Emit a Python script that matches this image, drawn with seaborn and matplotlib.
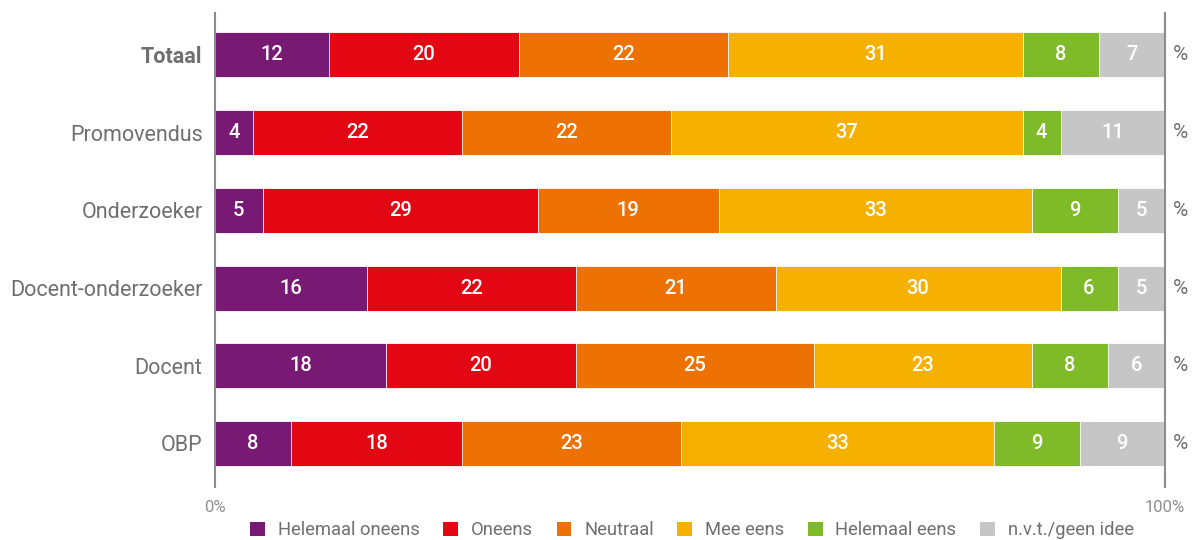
import matplotlib
matplotlib.use("Agg")
import matplotlib.pyplot as plt
from matplotlib.patches import Patch
import numpy as np
import pandas as pd
import seaborn as sns

categories = ["Totaal", "Promovendus", "Onderzoeker", "Docent-onderzoeker", "Docent", "OBP"]
series_names = ["Helemaal oneens", "Oneens", "Neutraal", "Mee eens", "Helemaal eens", "n.v.t./geen idee"]
helemaal_oneens = [12, 4, 5, 16, 18, 8]
oneens = [20, 22, 29, 22, 20, 18]
neutraal = [22, 22, 19, 21, 25, 23]
mee_eens = [31, 37, 33, 30, 23, 33]
helemaal_eens = [8, 4, 9, 6, 8, 9]
nvt = [7, 11, 5, 5, 6, 9]
tick_labels = ["0%", "100%"]

colors = ["#781a74", "#e30613", "#ee7203", "#f6b100", "#7fba28", "#c6c6c6"]
text_gray = "#6f6f6f"

sns.set_theme(style="white")
plt.rcParams["font.family"] = ["Roboto", "DejaVu Sans"]

values = np.array([helemaal_oneens, oneens, neutraal, mee_eens, helemaal_eens, nvt], dtype=float)
cum = np.cumsum(values, axis=0)

fig = plt.figure(figsize=(11.92, 5.40), dpi=100)
ax = fig.add_axes([215 / 1192, 53 / 540, 950 / 1192, 474 / 540])

# draw cumulative bars from the back (largest) to the front
for i in range(len(series_names) - 1, -1, -1):
    df = pd.DataFrame({"cat": categories, "val": cum[i]})
    sns.barplot(data=df, x="val", y="cat", orient="h", color=colors[i],
                saturation=1, width=0.58, edgecolor="white", linewidth=0.6, ax=ax)

# value labels
for i in range(len(series_names)):
    for j, cat in enumerate(categories):
        v = values[i, j]
        center = cum[i, j] - v / 2
        ax.text(center, j, f"{int(v)}", ha="center", va="center", color="white",
                fontsize=14.5, fontweight="medium")

ax.set_xlim(0, 100)
ax.set_ylim(5.56, -0.54)
ax.set_xlabel("")
ax.set_ylabel("")
ax.set_xticks([0, 100])
ax.set_xticklabels(tick_labels, color="#8f8f8f", fontsize=12)
ax.tick_params(axis="x", length=0, pad=9)
ax.tick_params(axis="y", length=0, pad=9)
for lbl in ax.get_yticklabels():
    lbl.set_color(text_gray)
    lbl.set_fontsize(15.5)
    if lbl.get_text() == "Totaal":
        lbl.set_fontweight("bold")

for side in ["top", "bottom"]:
    ax.spines[side].set_visible(False)
for side in ["left", "right"]:
    ax.spines[side].set_visible(True)
    ax.spines[side].set_color("#8c8c8c")
    ax.spines[side].set_linewidth(1.5)

# percent signs on the right
for j in range(len(categories)):
    ax.text(100.8, j, "%", ha="left", va="center", color=text_gray, fontsize=15)

handles = [Patch(facecolor=c, edgecolor="none") for c in colors]
fig.legend(handles, series_names, loc="center", bbox_to_anchor=(0.5805, 0.018), ncol=6,
           frameon=False, fontsize=13.2, handlelength=0.8, handleheight=0.8,
           handletextpad=0.7, columnspacing=1.3, labelcolor=text_gray)

fig.savefig("out.png", dpi=100)
